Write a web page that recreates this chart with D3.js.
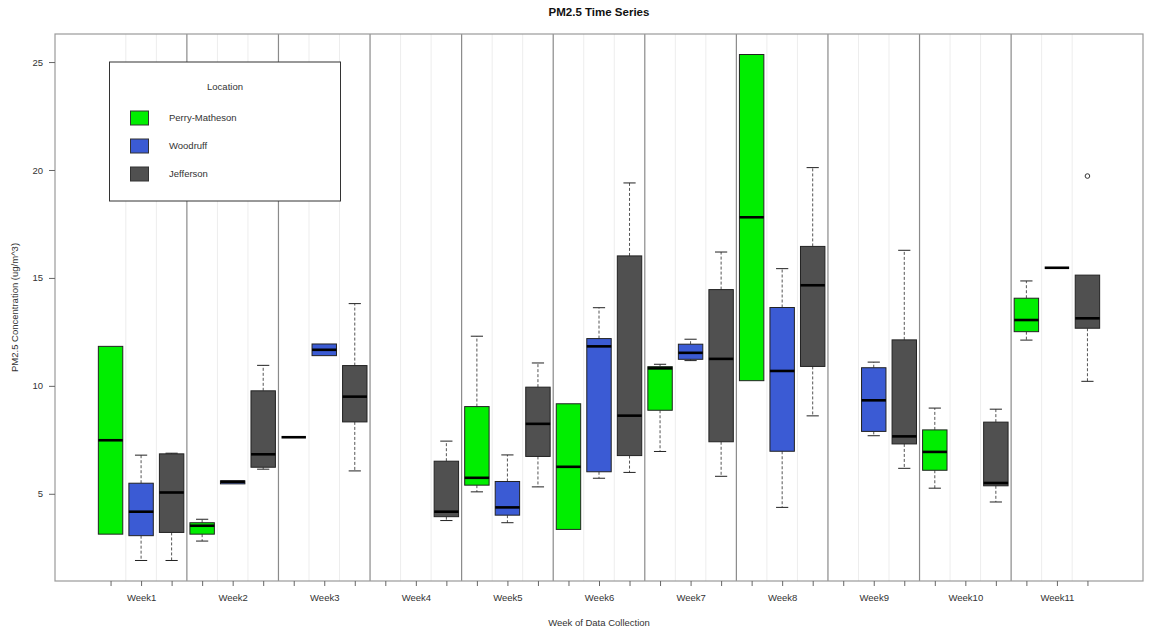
<!DOCTYPE html>
<html>
<head>
<meta charset="utf-8">
<script src="https://cdn.jsdelivr.net/npm/d3@7"></script>
<style>
  html, body { margin: 0; padding: 0; background: #fff; }
  svg { display: block; font-family: "Liberation Sans", Arial, sans-serif; }
</style>
</head>
<body>
<svg id="chart" width="1149" height="632"></svg>
<script>
// ---------- DATA ----------
const weeks = ["Week1","Week2","Week3","Week4","Week5","Week6","Week7","Week8","Week9","Week10","Week11"];
const locations = ["Perry-Matheson","Woodruff","Jefferson"];
const colors = ["#00ee00","#3b5bd4","#505050"];
const yTicks = [5,10,15,20,25];

// box stats per week: [lower whisker, Q1, median, Q3, upper whisker]; null = no data
const perryMatheson = [
  [3.13, 3.13, 7.48, 11.83, 11.83],
  [2.81, 3.13, 3.52, 3.66, 3.82],
  [7.62, 7.62, 7.62, 7.62, 7.62],
  null,
  [5.09, 5.40, 5.74, 9.04, 12.30],
  [3.35, 3.35, 6.25, 9.17, 9.17],
  [6.96, 8.87, 10.81, 10.89, 11.00],
  [10.24, 10.24, 17.81, 25.35, 25.35],
  null,
  [5.26, 6.09, 6.94, 7.96, 8.97],
  [12.12, 12.51, 13.05, 14.06, 14.86]
];
const woodruff = [
  [1.91, 3.06, 4.17, 5.49, 6.79],
  [5.46, 5.46, 5.56, 5.60, 5.60],
  [11.40, 11.40, 11.67, 11.94, 11.94],
  null,
  [3.66, 4.01, 4.37, 5.57, 6.80],
  [5.72, 6.02, 11.83, 12.19, 13.62],
  [11.17, 11.23, 11.53, 11.93, 12.16],
  [4.37, 6.97, 10.69, 13.63, 15.43],
  [7.69, 7.89, 9.33, 10.84, 11.10],
  null,
  [15.47, 15.47, 15.47, 15.47, 15.47]
];
const jefferson = [
  [1.91, 3.21, 5.06, 6.85, 6.88],
  [6.14, 6.23, 6.83, 9.77, 10.95],
  [6.06, 8.33, 9.50, 10.94, 13.81],
  [3.76, 3.94, 4.17, 6.51, 7.44],
  [5.32, 6.73, 8.24, 9.94, 11.06],
  [5.99, 6.77, 8.62, 16.02, 19.40],
  [5.81, 7.41, 11.25, 14.46, 16.20],
  [8.61, 10.90, 14.66, 16.46, 20.11],
  [6.18, 7.31, 7.66, 12.13, 16.28],
  [4.62, 5.37, 5.50, 8.32, 8.92],
  [10.21, 12.67, 13.13, 15.13, 15.13]
];
// outliers: [location index, week index, value]
const outliers = [[2, 10, 19.72]];

const series = [perryMatheson, woodruff, jefferson];

// ---------- LAYOUT ----------
const svg = d3.select("#chart");
const L = 55, R = 1143, T = 34, B = 581;
const nPos = weeks.length * locations.length;

const x = d3.scaleLinear().domain([-0.82, nPos + 1.82]).range([L, R]);
const y = d3.scaleLinear().domain([0.96, 26.3]).range([B, T]);
const unit = x(2) - x(1);
const boxW = unit * 0.8;
const stapleW = boxW * 0.5;

const pos = (w, l) => w * locations.length + l + 1;

// light grid lines between boxes inside each week
const g = svg.append("g");
for (let w = 0; w < weeks.length; w++) {
  for (let k = 1; k < locations.length; k++) {
    const p = w * locations.length + k + 0.5;
    g.append("line").attr("x1", x(p)).attr("x2", x(p)).attr("y1", T).attr("y2", B)
      .attr("stroke", "#ededed").attr("stroke-width", 1);
  }
}
// week separators
for (let w = 1; w < weeks.length; w++) {
  const p = w * locations.length + 0.5;
  g.append("line").attr("x1", x(p)).attr("x2", x(p)).attr("y1", T).attr("y2", B)
    .attr("stroke", "#8a8a8a").attr("stroke-width", 1.2);
}

// frame
svg.append("rect").attr("x", L).attr("y", T).attr("width", R - L).attr("height", B - T)
  .attr("fill", "none").attr("stroke", "#9a9a9a").attr("stroke-width", 1.2);

// ---------- BOXES ----------
const boxes = svg.append("g");
series.forEach((s, li) => {
  s.forEach((st, wi) => {
    if (!st) return;
    const [lo, q1, med, q3, hi] = st;
    const cx = x(pos(wi, li));
    const bg = boxes.append("g");
    // whiskers
    if (hi > q3) {
      bg.append("line").attr("x1", cx).attr("x2", cx).attr("y1", y(q3)).attr("y2", y(hi))
        .attr("stroke", "#555").attr("stroke-dasharray", "3,2").attr("stroke-width", 1);
      bg.append("line").attr("x1", cx - stapleW / 2).attr("x2", cx + stapleW / 2)
        .attr("y1", y(hi)).attr("y2", y(hi)).attr("stroke", "#222").attr("stroke-width", 1);
    }
    if (lo < q1) {
      bg.append("line").attr("x1", cx).attr("x2", cx).attr("y1", y(q1)).attr("y2", y(lo))
        .attr("stroke", "#555").attr("stroke-dasharray", "3,2").attr("stroke-width", 1);
      bg.append("line").attr("x1", cx - stapleW / 2).attr("x2", cx + stapleW / 2)
        .attr("y1", y(lo)).attr("y2", y(lo)).attr("stroke", "#222").attr("stroke-width", 1);
    }
    // box
    if (q3 > q1) {
      bg.append("rect").attr("x", cx - boxW / 2).attr("y", y(q3))
        .attr("width", boxW).attr("height", y(q1) - y(q3))
        .attr("fill", colors[li]).attr("stroke", "#222").attr("stroke-width", 1);
    }
    // median
    bg.append("line").attr("x1", cx - boxW / 2).attr("x2", cx + boxW / 2)
      .attr("y1", y(med)).attr("y2", y(med)).attr("stroke", "#000").attr("stroke-width", 2.6);
  });
});
outliers.forEach(([li, wi, v]) => {
  boxes.append("circle").attr("cx", x(pos(wi, li))).attr("cy", y(v)).attr("r", 2.3)
    .attr("fill", "none").attr("stroke", "#333").attr("stroke-width", 1);
});

// ---------- AXES ----------
const xAxis = d3.axisBottom(x)
  .tickValues(d3.range(1, nPos + 1))
  .tickSize(5).tickPadding(8)
  .tickFormat(d => ((d - 2) % locations.length === 0) ? weeks[(d - 2) / locations.length] : "");
const xg = svg.append("g").attr("transform", `translate(0,${B})`).call(xAxis);
xg.select(".domain").remove();
xg.selectAll(".tick line").attr("stroke", "#666");
xg.selectAll(".tick text").attr("fill", "#333").style("font-size", "9.5px")
  .style("font-family", "'Liberation Sans', Arial, sans-serif");

const yAxis = d3.axisLeft(y).tickValues(yTicks).tickSize(6).tickPadding(6).tickFormat(d3.format("d"));
const yg = svg.append("g").attr("transform", `translate(${L},0)`).call(yAxis);
yg.select(".domain").remove();
yg.selectAll(".tick line").attr("stroke", "#666");
yg.selectAll(".tick text").attr("fill", "#333").style("font-size", "9.5px")
  .style("font-family", "'Liberation Sans', Arial, sans-serif");

// titles
svg.append("text").attr("x", (L + R) / 2).attr("y", 16).attr("text-anchor", "middle")
  .style("font-size", "11.5px").style("font-weight", "bold").attr("fill", "#111")
  .text("PM2.5 Time Series");
svg.append("text").attr("x", (L + R) / 2).attr("y", 626).attr("text-anchor", "middle")
  .style("font-size", "9.5px").attr("fill", "#333").text("Week of Data Collection");
svg.append("text").attr("transform", `translate(18,${(T + B) / 2}) rotate(-90)`)
  .attr("text-anchor", "middle").style("font-size", "9.5px").attr("fill", "#333")
  .text("PM2.5 Concentration (ug/m^3)");

// ---------- LEGEND ----------
const lg = svg.append("g");
lg.append("rect").attr("x", 109.5).attr("y", 62).attr("width", 231).attr("height", 139)
  .attr("fill", "#fff").attr("stroke", "#333").attr("stroke-width", 1);
lg.append("text").attr("x", 225).attr("y", 90).attr("text-anchor", "middle")
  .style("font-size", "9.5px").attr("fill", "#333").text("Location");
locations.forEach((name, i) => {
  const cy = 118 + i * 28;
  lg.append("rect").attr("x", 130.5).attr("y", cy - 7).attr("width", 18).attr("height", 14)
    .attr("fill", colors[i]).attr("stroke", "#333").attr("stroke-width", 1);
  lg.append("text").attr("x", 169).attr("y", cy).attr("dy", "0.35em")
    .style("font-size", "9.5px").attr("fill", "#333").text(name);
});
</script>
</body>
</html>
